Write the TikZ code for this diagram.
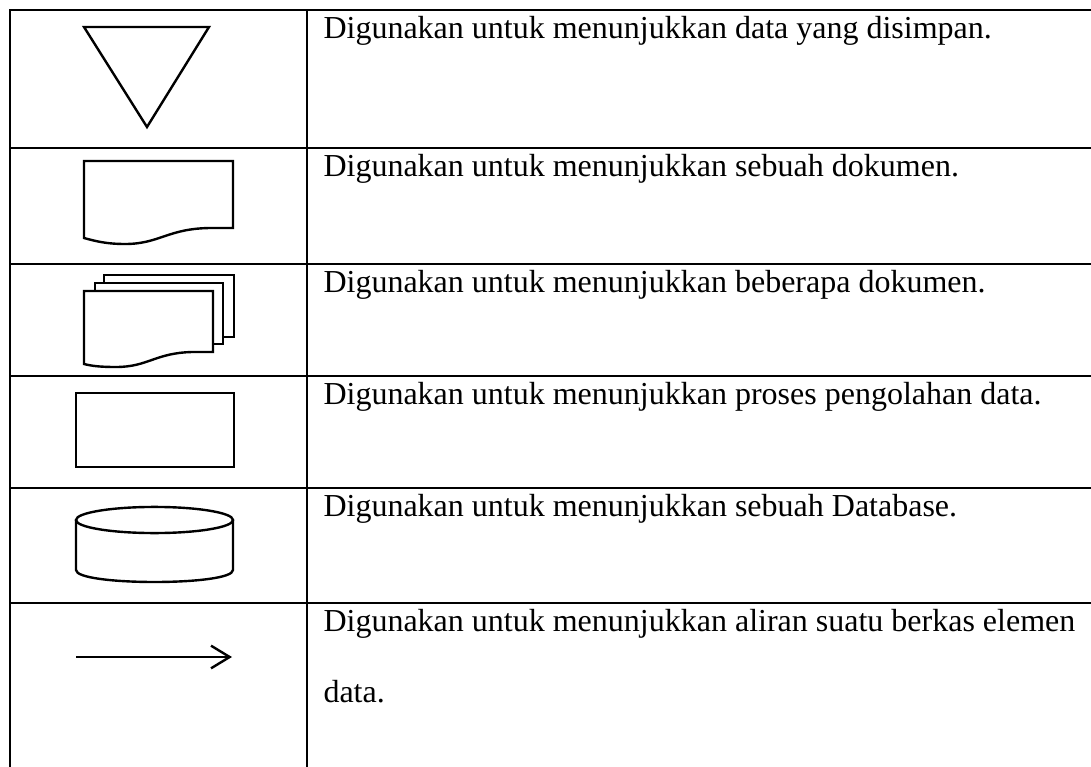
\documentclass[tikz,border=0pt]{standalone}
\usepackage{fontspec}
\setmainfont{Liberation Serif}
\usetikzlibrary{arrows.meta}
\begin{document}
\begin{tikzpicture}[x=0.375pt, y=-0.375pt,
		rule/.style={line width=1.1pt},
		sym/.style={line width=0.9pt, line join=miter},
		desc/.style={anchor=base west, inner sep=0pt, align=left, font=\fontsize{12}{26.6}\selectfont}]
			\useasboundingbox (0,0) rectangle (1091,767);
			% table rules
			\draw [rule] (10,767) -- (10,10) -- (1091,10);
			\draw [rule] (307,10) -- (307,767);
			\foreach \y in {148,264,376,488,603}
				\draw [rule] (10,\y) -- (1091,\y);
			% symbols
			\draw [sym] (84,27) -- (209,27) -- (147,127) -- cycle;
			\draw [sym] (84,161) -- (233,161) -- (233,228) -- (212,228) .. controls (168,228) and (160,244) .. (125,244) .. controls (106,244) and (95,241) .. (84,238) -- cycle;
			\draw [sym] (104,283) -- (104,275) -- (234,275) -- (234,337) -- (223,337);
			\draw [sym] (95,291) -- (95,283) -- (223,283) -- (223,344) -- (213,344);
			\draw [sym] (84,291) -- (213,291) -- (213,352) -- (192,352) .. controls (155,353) and (148,367) .. (116,367) .. controls (100,367) and (92,366) .. (84,364) -- cycle;
			\draw [sym] (76,393) rectangle (234,467);
			\draw [sym] (154.5,520) ellipse [x radius=29.44pt, y radius=4.9pt];
			\draw [sym] (76,520) -- (76,570) .. controls (76,586) and (233,586) .. (233,570) -- (233,520);
			\coordinate (flow tail) at (76,657);
			\coordinate (flow head) at (232,657);
			\draw [sym, -{Straight Barb[length=7pt,width=8.5pt]}] (flow tail) -- (flow head);
			% descriptions (base = last line)
			\node [desc] (stored) at (323,38) {Digunakan untuk menunjukkan data yang disimpan.};
			\node [desc] (document) at (323,176) {Digunakan untuk menunjukkan sebuah dokumen.};
			\node [desc] (documents) at (323,292) {Digunakan untuk menunjukkan beberapa dokumen.};
			\node [desc] (process) at (323,404) {Digunakan untuk menunjukkan proses pengolahan data.};
			\node [desc] (database) at (323,516) {Digunakan untuk menunjukkan sebuah Database.};
			\node [desc] (flow) at (323,702) {Digunakan untuk menunjukkan aliran suatu berkas elemen\\data.};
		\end{tikzpicture}
\end{document}
